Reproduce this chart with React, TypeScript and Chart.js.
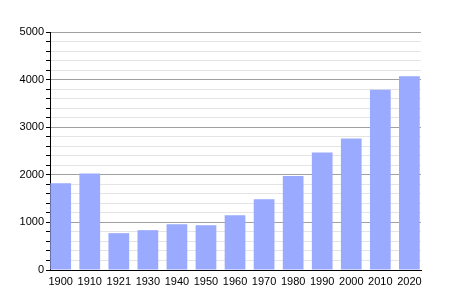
import React, { useEffect, useRef } from "react";
import { Chart, registerables } from "chart.js";

Chart.register(...registerables);

const years = ["1900", "1910", "1921", "1930", "1940", "1950", "1960", "1970", "1980", "1990", "2000", "2010", "2020"];
const population = [1820, 2029, 774, 837, 962, 941, 1150, 1485, 1973, 2469, 2762, 3787, 4073];

export default function App() {
  const ref = useRef<HTMLCanvasElement | null>(null);
  useEffect(() => {
    if (!ref.current) return;
    const chart = new Chart(ref.current, {
      type: "bar",
      data: {
        datasets: [
          {
            data: years.map((_, i) => ({ x: i, y: population[i] })),
            backgroundColor: "rgb(153,170,255)",
            borderWidth: 0,
            categoryPercentage: 0.713,
            barPercentage: 1,
          },
        ],
      },
      options: {
        animation: false,
        responsive: false,
        layout: { padding: { top: 32, right: 29, left: 0, bottom: 0 } },
        plugins: { legend: { display: false }, tooltip: { enabled: false } },
        scales: {
          x: {
            type: "linear",
            offset: false,
            min: -0.368,
            max: 12.4,
            grid: { display: false, drawTicks: false },
            border: { color: "#000", width: 1 },
            ticks: {
              stepSize: 1,
              includeBounds: false,
              color: "#000",
              font: { family: "Liberation Sans, Arial", size: 11 },
              padding: 5,
              maxRotation: 0,
              autoSkip: false,
              callback: (v: any) => (Number.isInteger(v) && years[v] ? years[v] : ""),
            },
            afterFit: (s: any) => { s.height = 30; },
          },
          y: {
            min: 0,
            max: 5000,
            grid: {
              color: (ctx: any) => (ctx.tick && ctx.tick.value % 1000 === 0 ? "#a0a0a0" : "#e4e4e4"),
              tickColor: "#000",
              tickLength: 4,
              lineWidth: 1,
            },
            border: { color: "#000", width: 1 },
            ticks: {
              stepSize: 200,
              color: "#000",
              font: { family: "Liberation Sans, Arial", size: 11 },
              padding: 2,
              autoSkip: false,
              callback: (v: any) => (v % 1000 === 0 ? String(v) : ""),
            },
            afterFit: (s: any) => { s.width = 50; },
          },
        },
      },
    });
    return () => chart.destroy();
  }, []);
  return (
    <div style={{ position: "fixed", left: 0, top: 0, width: 450, height: 300, background: "#fff" }}>
      <canvas ref={ref} width={450} height={300} style={{ width: 450, height: 300 }} />
    </div>
  );
}
